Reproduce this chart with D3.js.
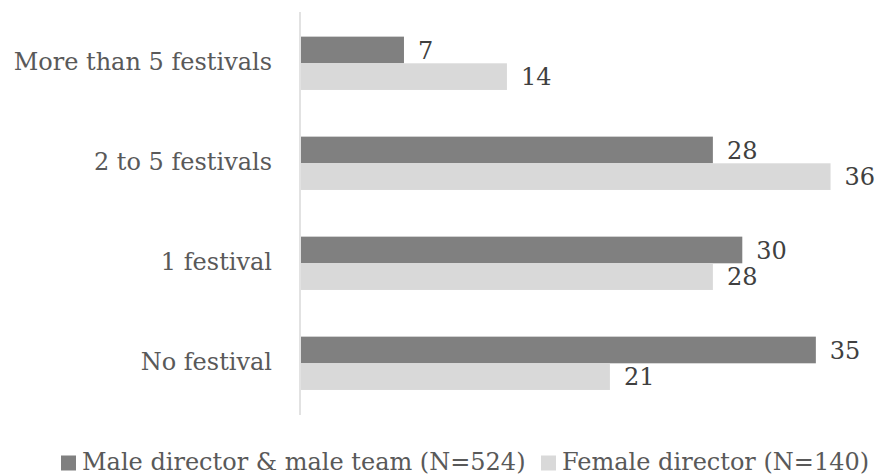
<!DOCTYPE html>
<html>
<head>
<meta charset="utf-8">
<script src="https://cdn.jsdelivr.net/npm/d3@7"></script>
<style>
  html, body { margin: 0; padding: 0; background: #fff; }
  svg { display: block; }
  text { font-family: "DejaVu Serif", serif; }
</style>
</head>
<body>
<svg id="chart" width="878" height="475"></svg>
<script>
const categories = ["More than 5 festivals", "2 to 5 festivals", "1 festival", "No festival"];
const seriesNames = ["Male director & male team (N=524)", "Female director (N=140)"];
const maleValues = [7, 28, 30, 35];
const femaleValues = [14, 36, 28, 21];
const seriesColors = ["#808080", "#d9d9d9"];

const svg = d3.select("#chart");
const fs = 24;

const x = d3.scaleLinear().domain([0, 40]).range([301, 301 + 588.4]);
const y = d3.scaleBand().domain(categories).range([13.3, 413.3]).paddingInner(0.4667).paddingOuter(0.2333);
const ySub = d3.scaleBand().domain([0, 1]).range([0, y.bandwidth()]);

const seriesData = [maleValues, femaleValues];

// bars
seriesData.forEach((vals, si) => {
  const g = svg.append("g");
  g.selectAll("rect").data(vals).join("rect")
    .attr("x", x(0))
    .attr("y", (d, i) => y(categories[i]) + ySub(si))
    .attr("width", d => x(d) - x(0))
    .attr("height", ySub.bandwidth())
    .attr("fill", seriesColors[si]);
  g.selectAll("text").data(vals).join("text")
    .attr("x", d => x(d) + 14)
    .attr("y", (d, i) => y(categories[i]) + ySub(si) + ySub.bandwidth() / 2)
    .attr("dy", "0.36em")
    .attr("font-size", fs)
    .attr("fill", "#404040")
    .text(d => d);
});

// axis line
svg.append("line")
  .attr("x1", 300).attr("x2", 300)
  .attr("y1", 12).attr("y2", 415)
  .attr("stroke", "#d9d9d9").attr("stroke-width", 1.5);

// category labels
svg.append("g").selectAll("text").data(categories).join("text")
  .attr("x", 272)
  .attr("y", d => y(d) + y.bandwidth() / 2)
  .attr("dy", "0.29em")
  .attr("text-anchor", "end")
  .attr("font-size", fs)
  .attr("fill", "#595959")
  .text(d => d);

// legend
const legendX = [61, 541];
const leg = svg.append("g");
seriesNames.forEach((name, i) => {
  leg.append("rect")
    .attr("x", legendX[i]).attr("y", 455.5)
    .attr("width", 15).attr("height", 15)
    .attr("fill", seriesColors[i]);
  leg.append("text")
    .attr("x", legendX[i] + 21)
    .attr("y", 469.5)
    .attr("font-size", fs)
    .attr("fill", "#595959")
    .text(name);
});
</script>
</body>
</html>
